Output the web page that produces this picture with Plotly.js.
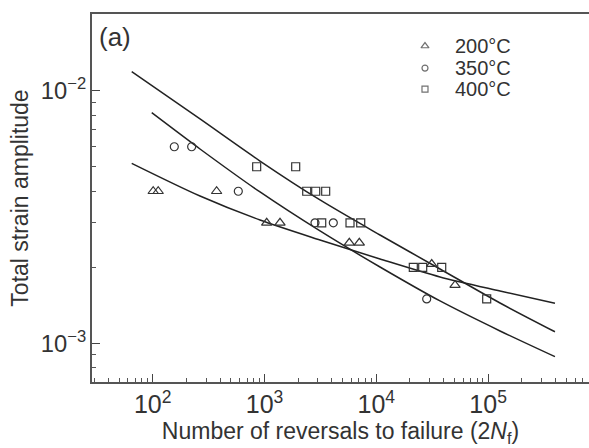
<!DOCTYPE html>
<html>
<head>
<meta charset="utf-8">
<script src="https://cdn.plot.ly/plotly-3.0.1.min.js"></script>
<style>html,body{margin:0;padding:0;background:#fff;overflow:hidden;}</style>
</head>
<body>
<div id="chart" style="width:589px;height:448px;"></div>
<script>
// Measured data (reversals to failure 2Nf, total strain amplitude)
const n200 = [101, 112, 373, 1046, 1376, 5735, 7047, 31300, 50600];
const e200 = [0.004, 0.004, 0.004, 0.003, 0.003, 0.0025, 0.0025, 0.00206, 0.0017];
const n350 = [156, 223, 583, 2829, 4125, 28230];
const e350 = [0.006, 0.006, 0.004, 0.003, 0.003, 0.0015];
const n400 = [851, 1901, 2385, 2871, 3525, 3249, 5819, 7253, 21430, 26000, 38460, 97160];
const e400 = [0.005, 0.005, 0.004, 0.004, 0.004, 0.003, 0.003, 0.003, 0.002, 0.002, 0.002, 0.0015];

// Fitted curves
const fitN400 = [64.9, 264.9, 911.6, 3136, 10790, 37140, 127800, 396300];
const fitE400 = [0.01189, 0.007727, 0.005268, 0.003694, 0.002685, 0.001970, 0.001445, 0.001112];
const fitN350 = [98, 264.9, 911.6, 3136, 10790, 37140, 127800, 396300];
const fitE350 = [0.008183, 0.005879, 0.003973, 0.002785, 0.002006, 0.001472, 0.001120, 0.000886];
const fitN200 = [64.9, 264.9, 911.6, 3136, 10790, 37140, 127800, 396300];
const fitE200 = [0.005160, 0.003831, 0.003078, 0.002566, 0.002158, 0.001832, 0.001612, 0.001441];

const seriesNames = ['200°C', '350°C', '400°C'];
const symbols = ['triangle-up-open', 'circle-open', 'square-open'];

// legend placement (fractions of the plot area)
const legendSymX = 0.670;
const legendTextX = 0.726;
const legendRowY = [0.913, 0.853, 0.796];

const ink = '#333333';
const fam = 'Liberation Sans, Arial, sans-serif';
const lineStyle = {color: '#222', width: 1.5, shape: 'spline', smoothing: 0.8};
const fits = [
  {x: fitN400, y: fitE400, mode: 'lines', line: lineStyle, showlegend: false, hoverinfo: 'skip'},
  {x: fitN350, y: fitE350, mode: 'lines', line: lineStyle, showlegend: false, hoverinfo: 'skip'},
  {x: fitN200, y: fitE200, mode: 'lines', line: lineStyle, showlegend: false, hoverinfo: 'skip'}
];
const mk = (sym, size) => ({symbol: sym, size: size, color: ink, line: {color: ink, width: 1.2}});
const pts = [
  {x: n200, y: e200, name: seriesNames[0], mode: 'markers', marker: mk(symbols[0], 9), showlegend: false},
  {x: n350, y: e350, name: seriesNames[1], mode: 'markers', marker: mk(symbols[1], 8), showlegend: false},
  {x: n400, y: e400, name: seriesNames[2], mode: 'markers', marker: mk(symbols[2], 8), showlegend: false}
];
const legendMarks = {
  x: legendRowY.map(() => legendSymX), y: legendRowY, xaxis: 'x2', yaxis: 'y2',
  mode: 'markers', showlegend: false, hoverinfo: 'skip',
  marker: {symbol: symbols, size: [7, 6, 6], color: ink, line: {color: ink, width: 1.2}}
};

const legendText = seriesNames.map((t, i) => ({
  text: t, xref: 'paper', yref: 'paper', x: legendTextX, y: legendRowY[i],
  xanchor: 'left', yanchor: 'middle', showarrow: false,
  font: {family: fam, size: 20, color: ink}
}));

const layout = {
  width: 589, height: 448,
  margin: {l: 92, r: 0, t: 14, b: 66},
  paper_bgcolor: '#fff', plot_bgcolor: '#fff',
  font: {family: fam, size: 20, color: ink},
  showlegend: false,
  xaxis: {
    type: 'log', range: [1.457, 5.9025],
    showline: true, linecolor: '#555', linewidth: 2, mirror: true,
    showgrid: false, zeroline: false,
    ticks: 'inside', ticklen: 8, tickwidth: 1.2, tickcolor: '#444',
    dtick: 1, exponentformat: 'power',
    minor: {ticks: 'inside', ticklen: 4, tickwidth: 1, tickcolor: '#555', dtick: 'D1', showgrid: false},
    tickfont: {family: fam, size: 20, color: ink},
    title: {text: 'Number of reversals to failure (2<i>N</i><sub>f</sub>)', font: {family: fam, size: 23, color: ink}, standoff: 0}
  },
  yaxis: {
    type: 'log', range: [-3.1528, -1.6965],
    showline: true, linecolor: '#555', linewidth: 2, mirror: false,
    showgrid: false, zeroline: false,
    ticks: 'inside', ticklen: 8, tickwidth: 1.2, tickcolor: '#444',
    dtick: 1, exponentformat: 'power',
    minor: {ticks: 'inside', ticklen: 4, tickwidth: 1, tickcolor: '#555', dtick: 'D1', showgrid: false},
    tickfont: {family: fam, size: 19, color: ink},
    title: {text: 'Total strain amplitude', font: {family: fam, size: 23, color: ink}, standoff: 6}
  },
  xaxis2: {overlaying: 'x', anchor: 'y2', range: [0, 1], visible: false, fixedrange: true},
  yaxis2: {overlaying: 'y', anchor: 'x2', range: [0, 1], visible: false, fixedrange: true},
  annotations: [
    {text: '(a)', xref: 'paper', yref: 'paper', x: 0.01, y: 0.985, xanchor: 'left', yanchor: 'top',
     showarrow: false, font: {family: fam, size: 26, color: ink}}
  ].concat(legendText)
};

Plotly.newPlot('chart', fits.concat(pts, [legendMarks]), layout, {staticPlot: true, displayModeBar: false});
</script>
</body>
</html>
